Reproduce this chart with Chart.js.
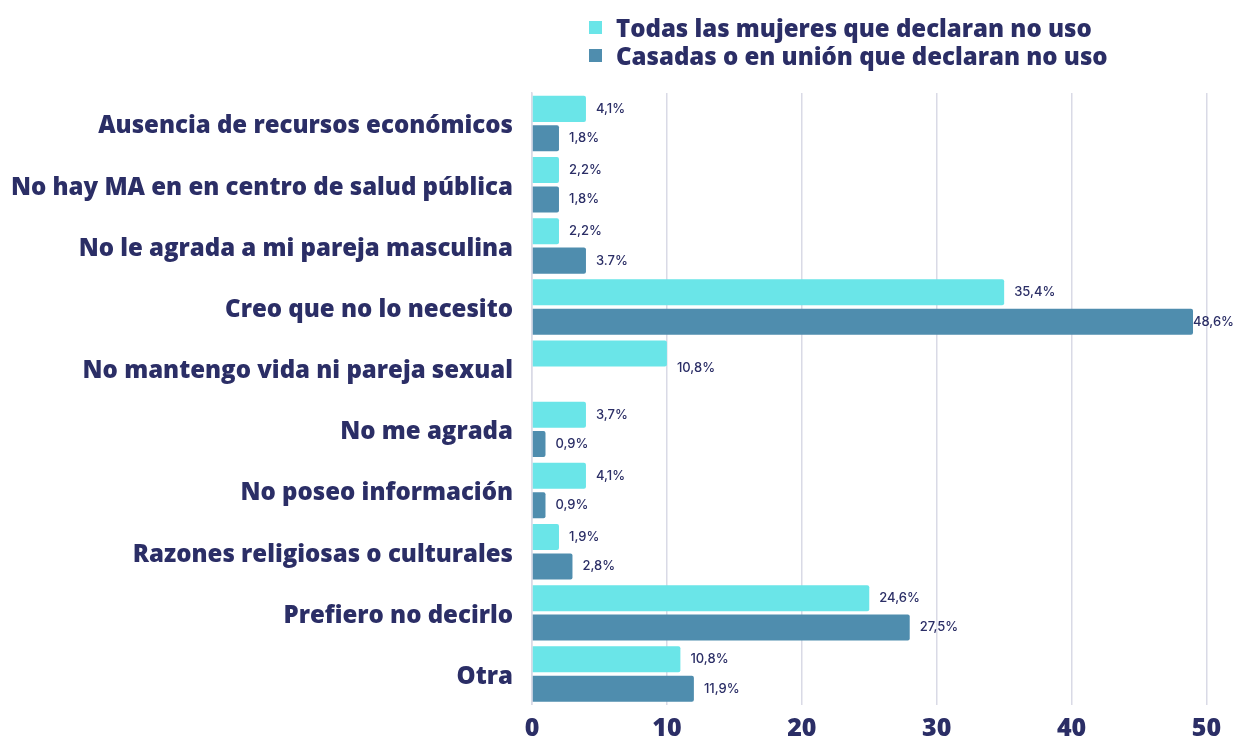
<!DOCTYPE html>
<html><head><meta charset="utf-8">
<script src="https://cdn.jsdelivr.net/npm/chart.js@4"></script>
<style>
html,body{margin:0;padding:0;background:#fff;}
#wrap{position:relative;width:1235px;height:738px;overflow:hidden}
#legend{position:absolute;left:589px;top:13px;font-family:"Open Sans";font-weight:800;font-size:24px;color:#2b2e66;}
.item{display:flex;align-items:center;height:28px;white-space:nowrap}
.sw{width:13px;height:13px;margin-right:14px;flex:none}
</style></head>
<body><div id="wrap"><canvas id="c" width="1235" height="738"></canvas><div id="legend"></div></div>
<script>
const categories = [
  "Ausencia de recursos económicos",
  "No hay MA en en centro de salud pública",
  "No le agrada a mi pareja masculina",
  "Creo que no lo necesito",
  "No mantengo vida ni pareja sexual",
  "No me agrada",
  "No poseo información",
  "Razones religiosas o culturales",
  "Prefiero no decirlo",
  "Otra"
];
const seriesNames = ["Todas las mujeres que declaran no uso", "Casadas o en unión que declaran no uso"];
const todasValues   = [4, 2, 2, 35, 10, 4, 4, 2, 25, 11];
const casadasValues = [2, 2, 4, 49, null, 1, 1, 3, 28, 12];
const todasLabels   = ["4,1%", "2,2%", "2,2%", "35,4%", "10,8%", "3,7%", "4,1%", "1,9%", "24,6%", "10,8%"];
const casadasLabels = ["1,8%", "1,8%", "3.7%", "48,6%", "", "0,9%", "0,9%", "2,8%", "27,5%", "11,9%"];
const xTicks = [0, 10, 20, 30, 40, 50];

const NAVY = "#2b2e66";
const CYAN = "#6ae5e8";
const BLUE = "#4f8dae";
const GRID = "#d9dae6";

const legendEl = document.getElementById("legend");
[CYAN, BLUE].forEach((col, i) => {
  const it = document.createElement("div"); it.className = "item";
  const sw = document.createElement("span"); sw.className = "sw"; sw.style.background = col;
  const tx = document.createElement("span"); tx.textContent = seriesNames[i];
  it.appendChild(sw); it.appendChild(tx); legendEl.appendChild(it);
});

const labelPlugin = {
  id: "barLabels",
  afterDatasetsDraw(chart) {
    const ctx = chart.ctx;
    const allLabels = [todasLabels, casadasLabels];
    ctx.save();
    ctx.font = "500 13px Inter";
    ctx.fillStyle = NAVY;
    ctx.textAlign = "left";
    ctx.textBaseline = "middle";
    const m0 = chart.getDatasetMeta(0), m1 = chart.getDatasetMeta(1);
    const slot = m1.data[0].y - m0.data[0].y;
    chart.data.datasets.forEach((ds, di) => {
      const meta = chart.getDatasetMeta(di);
      meta.data.forEach((el, i) => {
        const t = allLabels[di][i];
        if (!t || ds.data[i] == null) return;
        let y = el.y;
        if (di === 0 && chart.data.datasets[1].data[i] == null) y = el.y + slot / 2;
        const w = ctx.measureText(t).width;
        const x = Math.min(el.x + 10, chart.width - w - 1);
        ctx.fillText(t, x, y);
      });
    });
    ctx.restore();
  }
};

new Chart(document.getElementById("c"), {
  type: "bar",
  data: {
    labels: categories,
    datasets: [
      { label: seriesNames[0], data: todasValues, backgroundColor: CYAN, borderRadius: 2, borderSkipped: "start", categoryPercentage: 0.962, barPercentage: 0.885 },
      { label: seriesNames[1], data: casadasValues, backgroundColor: BLUE, borderRadius: 2, borderSkipped: "start", categoryPercentage: 0.962, barPercentage: 0.885 }
    ]
  },
  options: {
    indexAxis: "y",
    responsive: false,
    animation: false,
    devicePixelRatio: 1,
    layout: { padding: { top: 93, right: 28.5, bottom: 0, left: 0 } },
    plugins: { legend: { display: false }, tooltip: { enabled: false } },
    scales: {
      x: {
        min: 0, max: 50,
        afterBuildTicks: (s) => { s.ticks = xTicks.map(v => ({ value: v })); },
        afterFit: (s) => { s.height = 32; },
        grid: { color: GRID, lineWidth: 1.5, drawTicks: false },
        border: { display: false },
        ticks: { padding: 9, color: NAVY, font: { family: "Open Sans", weight: 800, size: 25 } }
      },
      y: {
        afterFit: (s) => { s.width = 532; },
        grid: { display: false, drawTicks: false },
        border: { display: true, color: GRID, width: 1.5 },
        ticks: { padding: 19, labelOffset: 3, color: NAVY, font: { family: "Open Sans", weight: 800, size: 24 } }
      }
    }
  },
  plugins: [labelPlugin]
});
</script>
</body></html>
